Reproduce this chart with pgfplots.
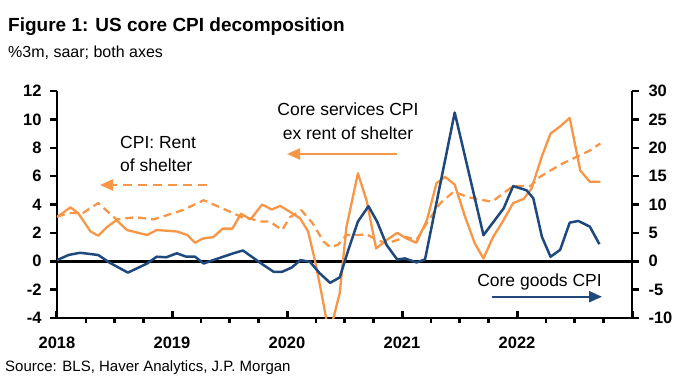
\documentclass[border=0pt]{standalone}
\usepackage{fontspec}
\setmainfont{Liberation Sans}
\usepackage{pgfplots}
\pgfplotsset{compat=1.18}
\usetikzlibrary{arrows.meta}
\definecolor{jorange}{RGB}{247,150,70}
\definecolor{jblue}{RGB}{31,73,125}
\newcommand{\fs}[1]{\fontsize{#1bp}{#1bp}\selectfont}
% image pixel coords (x from left, y from top) -> picture coords, axis origin at (57,318)
\newcommand{\pt}[2]{({(#1-57)*1bp},{(318-#2)*1bp})}
\begin{document}
\begin{tikzpicture}
\path[use as bounding box] \pt{0}{389} rectangle \pt{686}{0};
\begin{axis}[
  name=left,
  scale only axis, width=575bp, height=227bp,
  xmin=0, xmax=60, ymin=-4, ymax=12,
  axis x line*=bottom, axis y line*=left,
  axis line style={line width=2.5bp, -},
  xtick={0,12,24,36,48,60}, xticklabels={2018,2019,2020,2021,2022,},
  minor xtick={3,6,9,15,18,21,27,30,33,39,42,45,51,54,57},
  ytick={-4,-2,0,2,4,6,8,10,12}, yticklabels={-4,-2,0,2,4,6,8,10,12},
  tick align=outside,
  major tick length=7bp, minor tick length=5bp,
  tick style={black, line width=2.5bp},
  major x tick style={line width=3bp, yshift=7bp},
  x tick label style={font=\fs{16.5}\bfseries, yshift=-8bp},
  y tick label style={font=\fs{16.5}\bfseries, xshift=-5bp},
  clip=true,
]
\draw[line width=2.5bp, black] (rel axis cs:0,0.25) -- (rel axis cs:1,0.25);
% Core services CPI ex rent of shelter
\addplot[jorange, line width=2.3bp, line join=round] coordinates {
(0,3.1) (1.4,3.8) (2.2,3.4) (3.5,2.1) (4.3,1.8) (5.2,2.4) (6.2,2.9) (7.3,2.2)
(9.4,1.85) (10.4,2.2) (12.5,2.1) (13.6,1.85) (14.4,1.3) (15.2,1.6) (16.3,1.7)
(17.3,2.3) (18.3,2.3) (19.2,3.35) (20.2,2.95) (21.4,4.0) (22.4,3.65) (23.3,3.9)
(24.5,3.4) (25.4,3.0) (26.2,2.1) (26.9,0.1) (27.6,-2.25) (28.4,-5.2) (29.5,-2.25)
(30.2,2.4) (31.4,6.2) (32.3,4.3) (33.3,0.9) (34.4,1.5) (35.5,2.0) (36.5,1.6)
(37.5,1.3) (38.6,2.9) (39.6,5.5) (40.5,5.95) (41.5,5.4) (42.6,3.1) (43.6,1.26)
(44.5,0.2) (45.5,1.7) (46.6,2.9) (47.6,4.1) (48.7,4.4) (49.5,5.1) (50.6,7.4)
(51.5,9.0) (52.5,9.5) (53.5,10.1) (54.6,6.4) (55.6,5.6) (56.7,5.6)
};
% CPI: Rent of shelter
\addplot[jorange, line width=2.3bp, dash pattern=on 8bp off 5bp, line join=round] coordinates {
(0,3.15) (1.3,3.4) (2.7,3.4) (4.3,4.1) (6.2,2.95) (8.2,3.1) (10.1,2.95)
(13.1,3.6) (15.3,4.3) (17.7,3.6) (19.3,3.1) (20.2,3.0) (21.2,2.8) (22.2,2.8)
(23.5,2.2) (24.3,3.1) (25.5,3.6) (26.7,2.65) (27.8,1.4) (28.5,1.0) (29.3,1.15)
(30.2,1.85) (31.4,1.85) (32.3,1.9) (33.4,1.5) (34.4,1.25) (35.5,1.5) (36.5,1.7)
(37.5,1.5) (38.6,2.7) (40,4.1) (41.4,4.9) (43,4.5) (44.5,4.3) (45.4,4.2)
(46.6,4.8) (47.6,5.3) (49.4,5.3) (50.4,5.95) (51.5,6.4) (52.8,6.9) (54.2,7.35)
(55.6,7.8) (56.7,8.3)
};
\end{axis}
\begin{axis}[
  scale only axis, width=575bp, height=227bp,
  xmin=0, xmax=60, ymin=-10, ymax=30,
  axis x line=none, axis y line*=right,
  axis line style={line width=2.5bp, -},
  ytick={-10,-5,0,5,10,15,20,25,30}, yticklabels={-10,-5,0,5,10,15,20,25,30},
  tick align=outside, major tick length=7bp,
  tick style={black, line width=2.5bp},
  y tick label style={font=\fs{16.5}\bfseries, xshift=6bp},
]
\addplot[jblue, line width=2.5bp, line join=round] coordinates {
(0,0.2) (1.2,1.1) (2.4,1.5) (4.3,1.1) (5.5,-0.26) (7.4,-2.0) (9.4,-0.4)
(10.4,0.8) (11.4,0.7) (12.5,1.4) (13.5,0.8) (14.4,0.8) (15.3,-0.4) (16.3,0.2)
(18.4,1.4) (19.4,1.9) (21.4,-0.5) (22.6,-1.85) (23.5,-1.85) (24.5,-1.1)
(25.4,0.2) (26.4,-0.1) (27.4,-2.1) (28.5,-3.8) (29.5,-2.85) (30.4,2.0)
(31.4,7.0) (32.5,9.7) (33.4,7.0) (34.4,2.85) (35.5,0.3) (36.3,0.5) (37.5,-0.2)
(38.4,0.3) (41.5,26.2) (44.5,4.6) (46.6,9.3) (47.6,13.25) (49.0,12.5)
(49.7,11.1) (50.6,4.3) (51.5,0.8) (52.5,2.0) (53.5,6.8) (54.4,7.1) (55.6,6.1)
(56.6,3.0)
};
\end{axis}
% titles
\node[anchor=base west,inner sep=0] at \pt{8}{31.7} {\fs{19}\bfseries Figure 1: US core CPI decomposition};
\node[anchor=base west,inner sep=0] at \pt{8}{57} {\fs{16}\%3m, saar; both axes};
\node[anchor=base west,inner sep=0] at \pt{5}{371} {\fs{15}Source: BLS, Haver Analytics, J.P. Morgan};
% annotations
\node[anchor=base west,inner sep=0] at \pt{120}{148.3} {\fs{17.5}CPI: Rent};
\node[anchor=base west,inner sep=0] at \pt{120}{171.7} {\fs{17.5}of shelter};
\draw[jorange, line width=2.3bp, dash pattern=on 9bp off 6bp, -{Triangle[length=13bp,width=11bp]}] \pt{207}{185} -- \pt{100}{185};
\node[anchor=base,inner sep=0] at \pt{348}{115} {\fs{17.5}Core services CPI};
\node[anchor=base,inner sep=0] at \pt{348}{139} {\fs{17.5}ex rent of shelter};
\draw[jorange, line width=2.3bp, -{Triangle[length=13bp,width=11bp]}] \pt{397}{154} -- \pt{287}{154};
\node[anchor=base east,inner sep=0] at \pt{602}{286.7} {\fs{17.5}Core goods CPI};
\draw[jblue, line width=2.3bp, -{Triangle[length=13bp,width=11bp]}] \pt{492}{296.7} -- \pt{602}{296.7};
\end{tikzpicture}
\end{document}
